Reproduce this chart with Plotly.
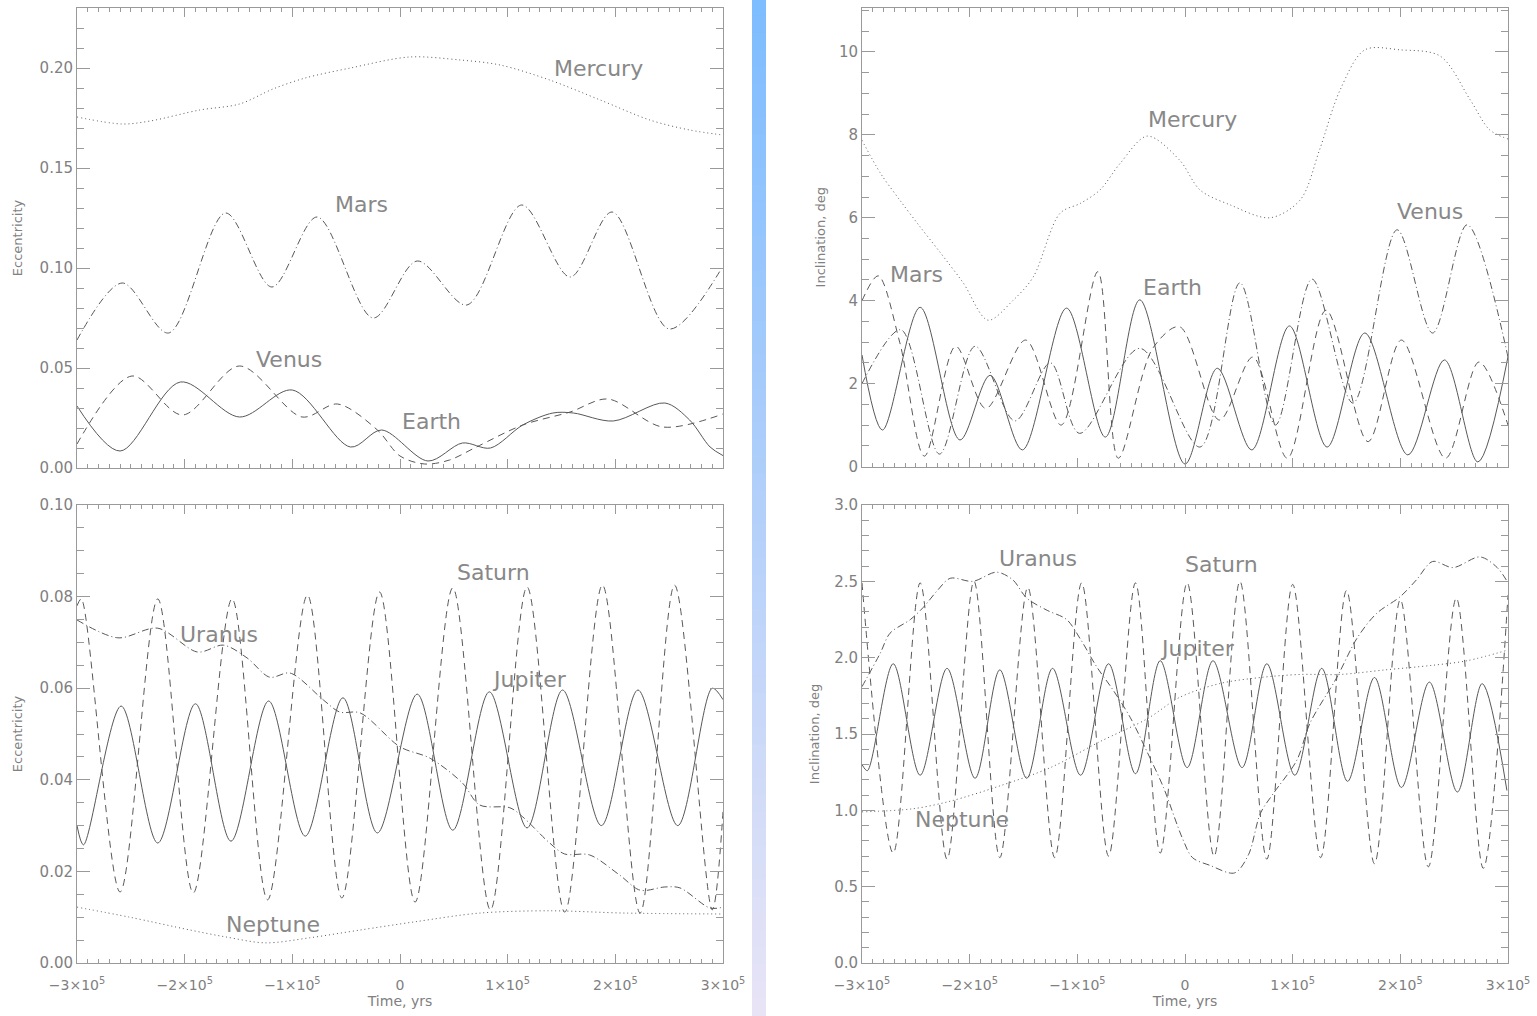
import numpy as np
import plotly.graph_objects as go

W, H = 1537, 1016

# ---------------- data (time in kyr) ----------------
# Eccentricity, inner planets
merc_e_t = [-300, -258, -232, -186, -149, -118, -88, -46, 9, 56, 93, 139, 186, 232, 269, 300]
merc_e = [0.1755, 0.172, 0.1735, 0.179, 0.182, 0.1895, 0.195, 0.200, 0.2055, 0.204, 0.2015, 0.194, 0.184, 0.174, 0.169, 0.1665]

mars_e_t = [-300, -258, -215, -162, -119, -77, -25, 16, 62, 113, 158, 197, 250, 300]
mars_e = [0.064, 0.0925, 0.0675, 0.1275, 0.0905, 0.1255, 0.075, 0.1035, 0.0815, 0.1315, 0.0955, 0.128, 0.0695, 0.101]

venus_e_t = [-300, -249, -202, -149, -91, -58, -21, 0, 23, 46, 71, 114, 158, 193, 244, 300]
venus_e = [0.012, 0.046, 0.0265, 0.051, 0.0255, 0.032, 0.019, 0.006, 0.002, 0.004, 0.0105, 0.0215, 0.028, 0.0345, 0.0205, 0.027]

earth_e_t = [-300, -260, -204, -149, -100, -46, -17, 26, 58, 84, 114, 142, 161, 198, 246, 269, 288, 300]
earth_e = [0.031, 0.0085, 0.043, 0.0255, 0.039, 0.0105, 0.019, 0.0035, 0.0125, 0.010, 0.0215, 0.0275, 0.0275, 0.0235, 0.0325, 0.024, 0.0105, 0.0062]

# Eccentricity, outer planets
jup_e_t = [-300, -294, -259, -225, -190, -157, -122, -88, -53, -21, 16, 49, 83, 118, 151, 187, 221, 258, 290, 300]
jup_e = [0.030, 0.0258, 0.0561, 0.0262, 0.0566, 0.0266, 0.0572, 0.0277, 0.0579, 0.0284, 0.0587, 0.029, 0.0592, 0.0295, 0.0596, 0.030, 0.0596, 0.030, 0.060, 0.0575]

sat_e_t = [-300, -296, -260, -225, -192, -156, -123, -86, -54, -19, 14, 49, 84, 118, 153, 188, 223, 255, 290, 300]
sat_e = [0.078, 0.0795, 0.0155, 0.0795, 0.0153, 0.0795, 0.0138, 0.0803, 0.0142, 0.081, 0.0133, 0.0819, 0.0116, 0.0821, 0.0111, 0.0825, 0.0109, 0.0825, 0.0116, 0.033]

ura_e_t = [-300, -262, -225, -188, -164, -142, -121, -102, -71, -56, -37, 0, 28, 58, 74, 102, 114, 139, 153, 176, 204, 223, 246, 260, 288, 300]
ura_e = [0.0749, 0.071, 0.0731, 0.0679, 0.0694, 0.0666, 0.0624, 0.0633, 0.0574, 0.0548, 0.0546, 0.0472, 0.0447, 0.0393, 0.0345, 0.0339, 0.0319, 0.0262, 0.0238, 0.0236, 0.0192, 0.0159, 0.0166, 0.0164, 0.012, 0.0122]

nep_e_t = [-300, -251, -195, -162, -125, -84, -37, 14, 74, 139, 209, 300]
nep_e = [0.0122, 0.010, 0.0072, 0.0057, 0.0044, 0.0055, 0.0072, 0.009, 0.0109, 0.0114, 0.0109, 0.0107]

# Inclination, inner planets (deg)
merc_i_t = [-300, -283, -265, -246, -227, -206, -183, -160, -141, -116, -97, -79, -60, -35, -5, 14, 42, 79, 107, 125, 144, 167, 200, 237, 265, 283, 300]
merc_i = [7.87, 7.08, 6.43, 5.78, 5.15, 4.43, 3.53, 4.0, 4.57, 6.11, 6.35, 6.67, 7.32, 7.97, 7.39, 6.67, 6.31, 6.0, 6.43, 7.64, 9.08, 10.05, 10.05, 9.9, 8.84, 8.12, 7.9]

earth_i_t = [-300, -281, -246, -209, -181, -151, -110, -74, -42, 0, 30, 62, 97, 132, 167, 207, 241, 272, 300]
earth_i = [2.69, 0.88, 3.84, 0.64, 2.2, 0.4, 3.82, 0.71, 4.02, 0.06, 2.37, 0.4, 3.39, 0.47, 3.22, 0.28, 2.57, 0.11, 2.65]

mars_i_t = [-300, -285, -265, -242, -213, -185, -148, -115, -81, -62, -30, -5, 32, 63, 95, 131, 170, 201, 242, 273, 300]
mars_i = [4.0, 4.6, 3.0, 0.25, 2.9, 1.4, 3.05, 1.0, 4.7, 0.2, 2.85, 3.37, 1.12, 2.64, 0.2, 3.77, 0.6, 3.05, 0.2, 2.52, 1.0]

venus_i_t = [-300, -264, -228, -195, -158, -125, -98, -42, 14, 51, 84, 118, 156, 197, 230, 262, 300]
venus_i = [2.0, 3.3, 0.3, 2.9, 1.1, 2.5, 0.8, 2.85, 0.47, 4.43, 1.0, 4.52, 1.53, 5.71, 3.22, 5.83, 2.64]

# Inclination, outer planets (deg)
jup_i_t = [-300, -295, -271, -246, -221, -195, -172, -147, -123, -97, -71, -46, -23, 2, 26, 53, 76, 102, 127, 151, 176, 201, 227, 253, 276, 299]
jup_i = [1.30, 1.26, 1.96, 1.23, 1.93, 1.21, 1.92, 1.21, 1.93, 1.23, 1.96, 1.24, 1.98, 1.28, 1.98, 1.28, 1.96, 1.23, 1.93, 1.19, 1.87, 1.15, 1.84, 1.12, 1.83, 1.13]

sat_i_t = [-300, -271, -246, -221, -196, -172, -146, -121, -96, -71, -46, -23, 2, 27, 51, 76, 100, 126, 150, 176, 200, 226, 252, 277, 300]
sat_i = [2.49, 0.72, 2.49, 0.68, 2.50, 0.69, 2.46, 0.69, 2.49, 0.70, 2.49, 0.72, 2.49, 0.70, 2.50, 0.68, 2.48, 0.69, 2.44, 0.65, 2.38, 0.63, 2.39, 0.62, 2.41]

ura_i_t = [-300, -283, -274, -255, -243, -230, -218, -197, -175, -160, -147, -128, -110, -97, -82, -67, -51, -35, -20, -2, 7, 23, 46, 59, 70, 82, 104, 116, 141, 160, 178, 200, 215, 230, 249, 274, 290, 300]
ura_i = [1.81, 2.03, 2.16, 2.25, 2.33, 2.44, 2.52, 2.50, 2.56, 2.51, 2.39, 2.31, 2.25, 2.12, 1.94, 1.79, 1.61, 1.38, 1.15, 0.81, 0.69, 0.64, 0.59, 0.71, 0.98, 1.11, 1.33, 1.57, 1.87, 2.13, 2.29, 2.40, 2.51, 2.63, 2.59, 2.66, 2.59, 2.49]

nep_i_t = [-300, -253, -218, -172, -125, -79, -35, -5, 32, 70, 107, 144, 186, 230, 262, 300]
nep_i = [0.99, 1.01, 1.06, 1.16, 1.28, 1.45, 1.60, 1.74, 1.83, 1.87, 1.89, 1.89, 1.92, 1.95, 1.98, 2.05]

x_tick_vals = [-300000, -200000, -100000, 0, 100000, 200000, 300000]
x_tick_text = ["\u22123\u00d710<sup>5</sup>", "\u22122\u00d710<sup>5</sup>", "\u22121\u00d710<sup>5</sup>", "0",
               "1\u00d710<sup>5</sup>", "2\u00d710<sup>5</sup>", "3\u00d710<sup>5</sup>"]

# ---------------- styling ----------------
AX = "#9a9a9a"
TXT = "#808080"
LINE = "#585858"
FONT = "DejaVu Sans"
DASH = {"solid": "solid", "dot": "1px,3px", "dash": "7px,5px", "dashdot": "7px,3px,1px,3px"}

fig = go.Figure()


def add(t, v, dash, ax):
    fig.add_trace(go.Scatter(
        x=np.array(t, dtype=float) * 1000.0, y=v, mode="lines",
        line=dict(color=LINE, width=1, dash=DASH[dash], shape="spline", smoothing=0.9),
        xaxis="x" + ax, yaxis="y" + ax, showlegend=False, hoverinfo="skip"))


add(merc_e_t, merc_e, "dot", "")
add(mars_e_t, mars_e, "dashdot", "")
add(venus_e_t, venus_e, "dash", "")
add(earth_e_t, earth_e, "solid", "")

add(jup_e_t, jup_e, "solid", "2")
add(sat_e_t, sat_e, "dash", "2")
add(ura_e_t, ura_e, "dashdot", "2")
add(nep_e_t, nep_e, "dot", "2")

add(merc_i_t, merc_i, "dot", "3")
add(venus_i_t, venus_i, "dashdot", "3")
add(mars_i_t, mars_i, "dash", "3")
add(earth_i_t, earth_i, "solid", "3")

add(jup_i_t, jup_i, "solid", "4")
add(sat_i_t, sat_i, "dash", "4")
add(ura_i_t, ura_i, "dashdot", "4")
add(nep_i_t, nep_i, "dot", "4")

xl = [77 / W, 723 / W]
xr = [862 / W, 1508 / W]
yt = [1 - 468 / H, 1 - 8 / H]
ytr = [1 - 466.5 / H, 1 - 8 / H]
yb = [1 - 963 / H, 1 - 505 / H]


def xaxis(dom, anchor, labels, title=None):
    d = dict(domain=dom, anchor=anchor, range=[-300000, 300000], showline=True, mirror="ticks",
             linecolor=AX, linewidth=1, ticks="inside", ticklen=9, tickcolor=AX, tickwidth=1,
             tickvals=x_tick_vals, ticktext=x_tick_text, showticklabels=labels,
             tickfont=dict(family=FONT, size=14, color=TXT), showgrid=False, zeroline=False,
             ticklabelstandoff=9,
             minor=dict(ticks="inside", ticklen=4, tickcolor=AX, dtick=10000, tick0=0, showgrid=False),
             automargin=False)
    if title:
        d["title"] = dict(text=title, font=dict(family=FONT, size=14, color=TXT), standoff=3)
    return d


def yaxis(dom, anchor, rng, dtick, mdtick, fmt, title, standoff):
    return dict(domain=dom, anchor=anchor, range=rng, showline=True, mirror="ticks",
                linecolor=AX, linewidth=1, ticks="inside", ticklen=13, tickcolor=AX, tickwidth=1,
                dtick=dtick, tick0=0, tickformat=fmt,
                tickfont=dict(family=FONT, size=15, color=TXT), showgrid=False, zeroline=False,
                minor=dict(ticks="inside", ticklen=7, tickcolor=AX, dtick=mdtick, tick0=0, showgrid=False),
                title=dict(text=title, font=dict(family=FONT, size=13, color=TXT), standoff=standoff),
                automargin=False)


fig.update_layout(
    width=W, height=H, margin=dict(l=0, r=0, t=0, b=0),
    paper_bgcolor="white", plot_bgcolor="white",
    xaxis=xaxis(xl, "y", False),
    yaxis=yaxis(yt, "x", [0, 0.23], 0.05, 0.01, ".2f", "Eccentricity", 14),
    xaxis2=xaxis(xl, "y2", True, "Time, yrs"),
    yaxis2=yaxis(yb, "x2", [0, 0.10], 0.02, 0.005, ".2f", "Eccentricity", 14),
    xaxis3=xaxis(xr, "y3", False),
    yaxis3=yaxis(ytr, "x3", [0, 11.06], 2, 0.5, "d", "Inclination, deg", 10),
    xaxis4=xaxis(xr, "y4", True, "Time, yrs"),
    yaxis4=yaxis(yb, "x4", [0, 3.0], 0.5, 0.1, ".1f", "Inclination, deg", 11),
)

# planet labels
labels = [
    ("", "Mercury", 184000, 0.1995), ("", "Mars", -36000, 0.132), ("", "Venus", -103000, 0.0545), ("", "Earth", 29700, 0.0235),
    ("2", "Saturn", 87000, 0.0852), ("2", "Uranus", -168000, 0.0718), ("2", "Jupiter", 120000, 0.062), ("2", "Neptune", -118000, 0.0085),
    ("3", "Mercury", 7400, 8.38), ("3", "Venus", 227500, 6.14), ("3", "Mars", -249000, 4.64), ("3", "Earth", -12000, 4.31),
    ("4", "Uranus", -137000, 2.65), ("4", "Saturn", 34000, 2.61), ("4", "Jupiter", 12000, 2.06), ("4", "Neptune", -207000, 0.94),
]
for ax, txt, x, y in labels:
    fig.add_annotation(x=x, y=y, xref="x" + ax, yref="y" + ax, text=txt, showarrow=False,
                       font=dict(family=FONT, size=22, color="#888888"), xanchor="center", yanchor="middle")

# vertical gradient separator bar
top = np.array([126, 189, 255])
bot = np.array([232, 228, 246])
n = 60
for i in range(n):
    f = i / (n - 1)
    c = top + (bot - top) * f
    fig.add_shape(type="rect", xref="paper", yref="paper", x0=752 / W, x1=766 / W,
                  y0=1 - (i + 1) / n, y1=1 - i / n + 0.001, line=dict(width=0),
                  fillcolor="rgb(%d,%d,%d)" % tuple(c.astype(int)), layer="below")

fig.write_html("out.html", config={"displayModeBar": False},
               post_script="document.body.style.margin='0px';document.body.style.overflow='hidden';")
